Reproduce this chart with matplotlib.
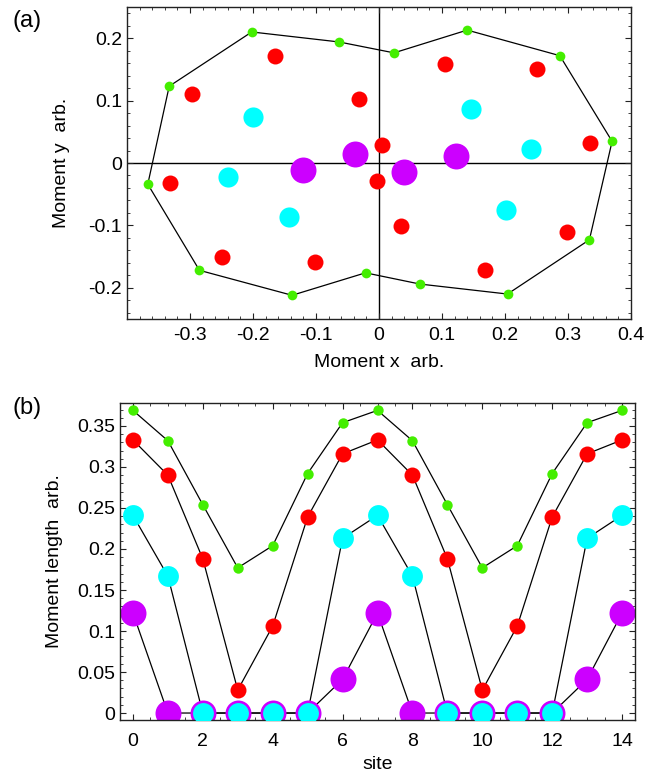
import matplotlib
matplotlib.use("Agg")
import matplotlib.pyplot as plt
from matplotlib.ticker import MultipleLocator, FuncFormatter

plt.rcParams['font.family'] = ['Liberation Sans', 'DejaVu Sans']
plt.rcParams['axes.unicode_minus'] = False

# ---------------- data: panel (a) ----------------
green_x = [-0.367, -0.333, -0.202, -0.0635, 0.0238, 0.140, 0.287, 0.370,
           0.334, 0.204, 0.065, -0.0214, -0.138, -0.285]
green_y = [-0.034, 0.123, 0.210, 0.194, 0.1765, 0.213, 0.172, 0.0347,
           -0.123, -0.210, -0.194, -0.176, -0.212, -0.172]
red_x = [-0.1656, -0.297, -0.032, -0.332, -0.249, -0.102, 0.0053, -0.0027,
         0.105, 0.250, 0.335, 0.0349, 0.168, 0.299]
red_y = [0.172, 0.110, 0.102, -0.0315, -0.150, -0.158, 0.0288, -0.0288,
         0.158, 0.150, 0.0315, -0.101, -0.172, -0.110]
cyan_x = [-0.1995, -0.239, -0.143, 0.1455, 0.2418, 0.202]
cyan_y = [0.074, -0.023, -0.087, 0.0864, 0.0224, -0.0747]
purple_x = [-0.121, -0.0376, 0.040, 0.123]
purple_y = [-0.0117, 0.0144, -0.0144, 0.0117]

# ---------------- data: panel (b) ----------------
sites = list(range(15))
green_len = [0.369, 0.332, 0.254, 0.177, 0.204, 0.292, 0.354, 0.369,
             0.332, 0.254, 0.177, 0.204, 0.292, 0.354, 0.369]
red_len = [0.333, 0.290, 0.188, 0.028, 0.106, 0.239, 0.316, 0.333,
           0.290, 0.188, 0.028, 0.106, 0.239, 0.316, 0.333]
cyan_len = [0.241, 0.167, 0.0, 0.0, 0.0, 0.0, 0.213, 0.241,
            0.167, 0.0, 0.0, 0.0, 0.0, 0.213, 0.241]
purple_len = [0.122, 0.0, 0.0, 0.0, 0.0, 0.0, 0.041, 0.122,
              0.0, 0.0, 0.0, 0.0, 0.0, 0.041, 0.122]

C_GREEN = '#44ee00'
C_RED = '#ff0000'
C_CYAN = '#00ffff'
C_PURPLE = '#cc00ff'

FS_TICK = 14
FS_LAB = 14

fig = plt.figure(figsize=(6.48, 7.76), dpi=100)

def style(ax):
    for s in ax.spines.values():
        s.set_linewidth(1.0)
        s.set_color('#222222')
    ax.tick_params(which='both', direction='in', top=True, right=True,
                   labelsize=FS_TICK, color='#222222')
    ax.tick_params(which='major', length=4, width=0.8)
    ax.tick_params(which='minor', length=2, width=0.6)

def fmt(v, pos):
    if abs(v) < 1e-9:
        return '0'
    return ('%g' % round(v, 3))

# ---------------- panel (a) ----------------
axa = fig.add_axes([127/648, 1-319/776, 504/648, 312/776])
style(axa)
axa.tick_params(axis='x', which='major', pad=6.0)
axa.set_xlim(-0.4, 0.4)
axa.set_ylim(-0.25, 0.25)
axa.axhline(0, color='black', lw=1.0, zorder=1)
axa.axvline(0, color='black', lw=1.0, zorder=1)
gx = green_x + [green_x[0]]
gy = green_y + [green_y[0]]
axa.plot(gx, gy, color='black', lw=0.9, zorder=2)
axa.plot(green_x, green_y, 'o', color=C_GREEN, ms=7.0, mec='none', zorder=3)
axa.plot(red_x, red_y, 'o', color=C_RED, ms=11.5, mec='none', zorder=3)
axa.plot(cyan_x, cyan_y, 'o', color=C_CYAN, ms=14.5, mec='none', zorder=3)
axa.plot(purple_x, purple_y, 'o', color=C_PURPLE, ms=18.7, mec='none', zorder=3)
axa.set_xticks([-0.3, -0.2, -0.1, 0, 0.1, 0.2, 0.3, 0.4])
axa.set_yticks([-0.2, -0.1, 0, 0.1, 0.2])
axa.xaxis.set_minor_locator(MultipleLocator(0.02))
axa.yaxis.set_minor_locator(MultipleLocator(0.02))
axa.xaxis.set_major_formatter(FuncFormatter(fmt))
axa.yaxis.set_major_formatter(FuncFormatter(fmt))
axa.set_xlabel('Moment x  arb.', fontsize=FS_LAB, labelpad=7)
axa.set_ylabel('Moment y  arb.', fontsize=FS_LAB, labelpad=13)
fig.text(12/648, 1-21/776, '(a)', fontsize=17, va='center', ha='left')

# ---------------- panel (b) ----------------
axb = fig.add_axes([120/648, 1-720/776, 515/648, 317/776])
style(axb)
axb.tick_params(axis='x', which='major', pad=9.0)
axb.set_xlim(-0.37, 14.37)
axb.set_ylim(-0.0085, 0.378)
for vals in (green_len, red_len, cyan_len, purple_len):
    axb.plot(sites, vals, color='black', lw=0.9, zorder=1)
axb.plot(sites, purple_len, 'o', color=C_PURPLE, ms=18.7, mec='none', zorder=2)
axb.plot(sites, cyan_len, 'o', color=C_CYAN, ms=15.0, mec='none', zorder=3)
axb.plot(sites, red_len, 'o', color=C_RED, ms=11.5, mec='none', zorder=4)
axb.plot(sites, green_len, 'o', color=C_GREEN, ms=7.5, mec='none', zorder=5)
axb.set_xticks([0, 2, 4, 6, 8, 10, 12, 14])
axb.xaxis.set_minor_locator(MultipleLocator(0.5))
axb.set_yticks([0, 0.05, 0.1, 0.15, 0.2, 0.25, 0.3, 0.35])
axb.yaxis.set_minor_locator(MultipleLocator(0.01))
axb.yaxis.set_major_formatter(FuncFormatter(fmt))
axb.set_xlabel('site', fontsize=FS_LAB, labelpad=5)
axb.set_ylabel('Moment length  arb.', fontsize=FS_LAB, labelpad=10)
fig.text(12/648, 1-408/776, '(b)', fontsize=17, va='center', ha='left')

fig.savefig('out.png', dpi=100)
